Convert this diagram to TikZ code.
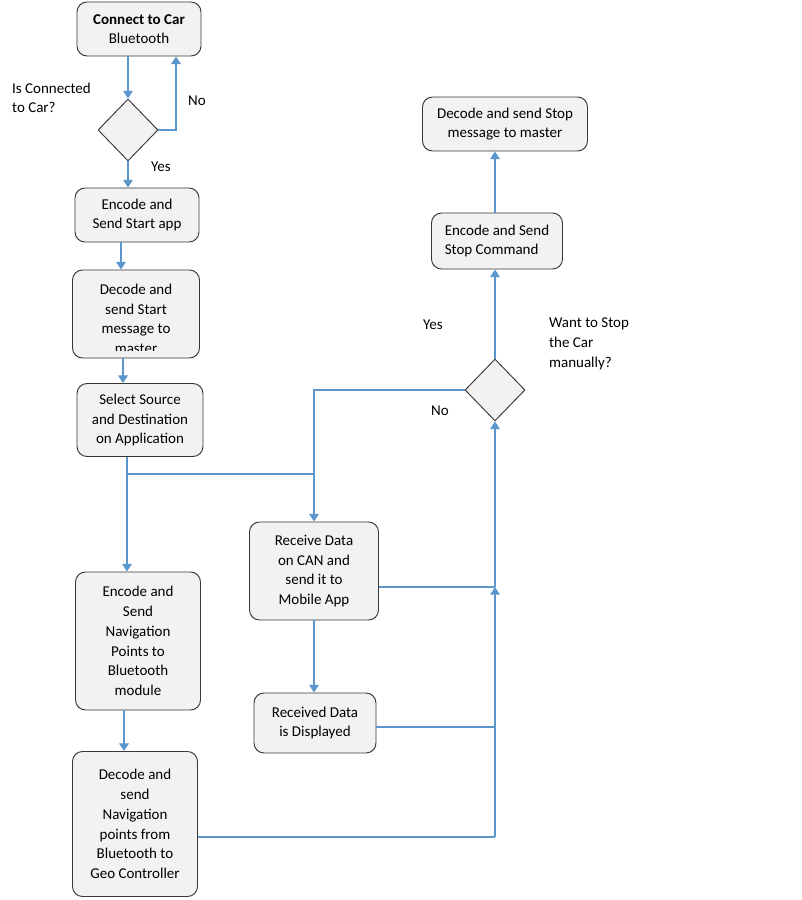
\documentclass[tikz,border=0pt]{standalone}
\usepackage{fontspec}
\setmainfont{Carlito}
\usetikzlibrary{shapes.geometric,arrows.meta,calc}
\definecolor{flowblue}{RGB}{91,150,205}
\definecolor{boxgray}{RGB}{242,242,242}
\definecolor{boxline}{RGB}{55,55,55}
\begin{document}
\begin{tikzpicture}[x=0.03cm,y=-0.03cm,
    font=\fontsize{12.8}{16.8}\selectfont,
    stepbox/.style={draw=boxline,fill=boxgray,rounded corners=0.3cm,align=center,inner sep=2pt,line width=0.8pt},
    decide/.style={diamond,draw=boxline,fill=boxgray,minimum width=1.8cm,minimum height=1.86cm,inner sep=0pt,line width=0.8pt},
    flow/.style={draw=flowblue,line width=2.4pt,-{Triangle[width=8pt,length=6.5pt]}},
    wire/.style={draw=flowblue,line width=2.4pt},
    thinwire/.style={draw=flowblue,line width=1.1pt}]
  \useasboundingbox (0,0) rectangle (801,900);
  % left column
  \node[stepbox,minimum width=3.72cm,minimum height=1.62cm] (conn) at (139,29) {\textbf{Connect to Car}\\Bluetooth};
  \node[decide] (d1) at (128,130) {};
  \node[stepbox,minimum width=3.72cm,minimum height=1.62cm] (start) at (137,215) {Encode and\\Send Start app};
  \node[stepbox,minimum width=3.81cm,minimum height=2.64cm] (decstart) at (136,314) {};
  \begin{scope}
    \clip (decstart.north west) rectangle ($(decstart.south east)+(0,-8)$);
    \node[align=center] (decstarttext) at ($(decstart.center)+(0,5)$) {Decode and\\send Start\\message to\\master};
  \end{scope}
  \node[stepbox,minimum width=3.78cm,minimum height=2.19cm] (select) at (140,420) {Select Source\\and Destination\\on Application};
  \node[stepbox,minimum width=3.75cm,minimum height=4.14cm] (encnav) at (138,641) {Encode and\\Send\\Navigation\\Points to\\Bluetooth\\module};
  \node[stepbox,minimum width=3.75cm,minimum height=4.35cm] (decnav) at (135,824) {Decode and\\send\\Navigation\\points from\\Bluetooth to\\Geo Controller};
  % middle column
  \node[stepbox,minimum width=3.87cm,minimum height=2.94cm] (recv) at (314,571) {Receive Data\\on CAN and\\send it to\\Mobile App};
  \node[stepbox,minimum width=3.66cm,minimum height=1.8cm] (disp) at (315,723) {Received Data\\is Displayed};
  % right column
  \node[decide] (d2) at (495,390) {};
  \node[stepbox,minimum width=3.93cm,minimum height=1.68cm,align=left] (stopcmd) at (497,241) {Encode and Send\\Stop Command};
  \node[stepbox,minimum width=4.95cm,minimum height=1.62cm] (decstop) at (505,124) {Decode and send Stop\\message to master};
  % labels
  \node[align=left,anchor=west] (askconn) at (8,98) {Is Connected\\to Car?};
  \node (nolbl1) at (197,101) {No};
  \node (yeslbl1) at (161,167) {Yes};
  \node[align=left,anchor=west] (askstop) at (545,344) {Want to Stop\\the Car\\manually?};
  \node (yeslbl2) at (433,325) {Yes};
  \node (nolbl2) at (440,411) {No};
  % bend points
  \coordinate (split) at (127,474);
  \coordinate (join) at (495,587);
  \coordinate (bot) at (495,837);
  % connectors
  \draw[flow] (conn.south -| d1.north) -- (d1.north);
  \draw[flow] (d1.east) -| ($(conn.south)+(37,0)$);
  \draw[flow] (d1.south) -- (d1.south |- start.north);
  \draw[flow] (start.south -| 121,0) -- (decstart.north -| 121,0);
  \draw[flow] (decstart.south -| 123,0) -- (select.north -| 123,0);
  \draw[wire] (select.south -| split) -- (split);
  \draw[flow] (split) -- (split |- encnav.north);
  \draw[wire] (split) -- (split -| recv.north);
  \draw[flow] (d2.west) -| (recv.north);
  \draw[flow] (encnav.south -| 124,0) -- (decnav.north -| 124,0);
  \draw[flow] (recv.south) -- (recv.south |- disp.north);
  \draw[wire] (recv.east |- join) -- (join);
  \draw[thinwire] (disp.east |- 0,727) -- (495,727);
  \draw[wire] (decnav.east |- bot) -- (bot);
  \draw[flow] (bot) -- (join);
  \draw[flow] (join) -- (d2.south);
  \draw[flow] (d2.north) -- (d2.north |- stopcmd.south);
  \draw[flow] (stopcmd.north -| d2.north) -- (d2.north |- decstop.south);
\end{tikzpicture}
\end{document}
